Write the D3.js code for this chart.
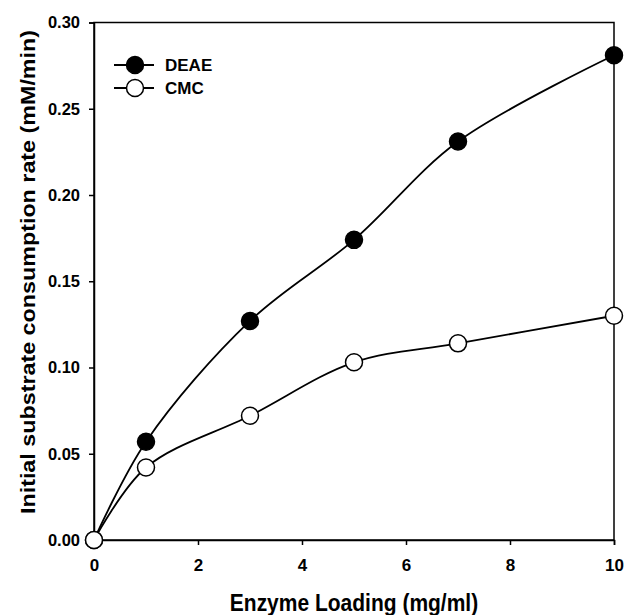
<!DOCTYPE html>
<html>
<head>
<meta charset="utf-8">
<script src="https://cdn.jsdelivr.net/npm/d3@7"></script>
<style>
  body { margin: 0; background: #fff; }
  svg { display: block; font-family: "Liberation Sans", Arial, sans-serif; }
  .axis text { font-weight: bold; fill: #000; }
  .axis path, .axis line { stroke: #000; stroke-width: 1.5; }
</style>
</head>
<body>
<main></main>
<script>
// enzyme loading (mg/ml)
const loading = [0, 1, 3, 5, 7, 10];
// initial substrate consumption rate (mM/min)
const deae = [0, 0.057, 0.127, 0.174, 0.231, 0.281];
const cmc = [0, 0.042, 0.072, 0.103, 0.114, 0.130];

const xTicks = [0, 2, 4, 6, 8, 10];
const yTicks = [0, 0.05, 0.10, 0.15, 0.20, 0.25, 0.30];

const series = [
  { name: 'DEAE', values: deae, fill: '#000' },
  { name: 'CMC', values: cmc, fill: '#fff' }
];

const W = 625, H = 615;
const plotLeft = 94, plotRight = 614, plotTop = 22.5, plotBottom = 540;

const svg = d3.select('main')
  .append('svg')
  .attr('width', W)
  .attr('height', H);

const x = d3.scaleLinear().domain([0, 10]).range([plotLeft, plotRight]);
const y = d3.scaleLinear().domain([0, 0.30]).range([plotBottom, plotTop]);

// frame
svg.append('rect')
  .attr('x', plotLeft)
  .attr('y', plotTop)
  .attr('width', plotRight - plotLeft)
  .attr('height', plotBottom - plotTop)
  .attr('fill', 'none')
  .attr('stroke', '#000')
  .attr('stroke-width', 1.5);

svg.append('g')
  .attr('class', 'axis')
  .attr('transform', `translate(0, ${plotBottom})`)
  .style('font-size', '17px')
  .call(d3.axisBottom(x).tickValues(xTicks).tickSize(5).tickPadding(14).tickFormat(d3.format('d')));

svg.append('g')
  .attr('class', 'axis')
  .attr('transform', `translate(${plotLeft}, 0)`)
  .style('font-size', '16.5px')
  .call(d3.axisLeft(y).tickValues(yTicks).tickSize(5).tickPadding(9).tickFormat(d3.format('.2f')));

const line = d3.line()
  .x((d, i) => x(loading[i]))
  .y(d => y(d))
  .curve(d3.curveCatmullRom.alpha(0.5));

series.forEach(s => {
  svg.append('path')
    .datum(s.values)
    .attr('d', line)
    .attr('fill', 'none')
    .attr('stroke', '#000')
    .attr('stroke-width', 1.8);
});

series.forEach(s => {
  svg.append('g')
    .selectAll('circle')
    .data(s.values)
    .enter()
    .append('circle')
    .attr('cx', (d, i) => x(loading[i]))
    .attr('cy', d => y(d))
    .attr('r', 8.5)
    .attr('fill', s.fill)
    .attr('stroke', '#000')
    .attr('stroke-width', 1.5);
});

// legend
const legend = svg.append('g');
series.forEach((s, i) => {
  const ly = 65 + i * 23;
  legend.append('line')
    .attr('x1', 114).attr('x2', 154)
    .attr('y1', ly).attr('y2', ly)
    .attr('stroke', '#000')
    .attr('stroke-width', 1.8);
  legend.append('circle')
    .attr('cx', 135).attr('cy', ly)
    .attr('r', 8.5)
    .attr('fill', s.fill)
    .attr('stroke', '#000')
    .attr('stroke-width', 1.5);
  legend.append('text')
    .attr('x', 165)
    .attr('y', ly)
    .attr('dy', '0.36em')
    .attr('font-size', 17)
    .attr('font-weight', 'bold')
    .text(s.name);
});

svg.append('text')
  .attr('transform', `translate(${(plotLeft + plotRight) / 2}, 611) scale(1, 1.1)`)
  .attr('text-anchor', 'middle')
  .attr('font-size', 21)
  .attr('font-weight', 'bold')
  .text('Enzyme Loading (mg/ml)');

svg.append('text')
  .attr('transform', 'translate(35, 272) rotate(-90) scale(1.11, 1)')
  .attr('text-anchor', 'middle')
  .attr('font-size', 21)
  .attr('font-weight', 'bold')
  .text('Initial substrate consumption rate (mM/min)');
</script>
</body>
</html>
